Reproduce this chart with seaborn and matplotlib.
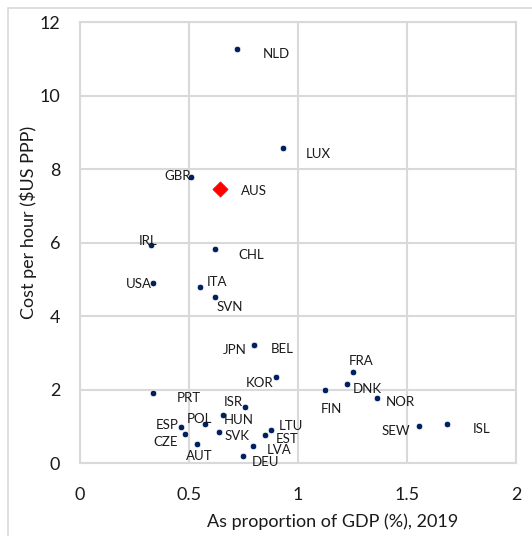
import numpy as np
import pandas as pd
import seaborn as sns
import matplotlib.pyplot as plt
from matplotlib.patches import Rectangle

# data
countries = ["NLD", "LUX", "GBR", "IRL", "CHL", "USA", "ITA", "SVN", "JPN", "BEL",
             "KOR", "PRT", "ISR", "HUN", "POL", "ESP", "CZE", "SVK", "LTU", "EST",
             "AUT", "LVA", "DEU", "FRA", "DNK", "FIN", "NOR", "SEW", "ISL"]
gdp_share = [0.72, 0.93, 0.51, 0.325, 0.62, 0.335, 0.553, 0.62, 0.80, 0.80,
             0.90, 0.335, 0.757, 0.655, 0.573, 0.463, 0.481, 0.637, 0.876, 0.848,
             0.536, 0.793, 0.747, 1.253, 1.225, 1.124, 1.363, 1.556, 1.684]
cost_per_hour = [11.28, 8.57, 7.80, 5.94, 5.83, 4.90, 4.79, 4.53, 3.22, 3.22,
                 2.34, 1.91, 1.53, 1.31, 1.07, 0.98, 0.80, 0.86, 0.92, 0.77,
                 0.54, 0.48, 0.21, 2.49, 2.17, 2.00, 1.79, 1.03, 1.08]
aus_name = ["AUS"]
aus_x = [0.645]
aus_y = [7.46]

# label offsets in pixels (dx, dy) relative to the point
label_offsets = {
    "NLD": (39, -5), "LUX": (36, -6), "GBR": (-13, 1), "IRL": (-3, 4),
    "CHL": (36, -6), "USA": (-14, -1), "ITA": (17, 5), "SVN": (15, -10),
    "JPN": (-20, -5), "BEL": (28, -4), "KOR": (-17, -6), "PRT": (36, -5),
    "ISR": (-12, 5), "HUN": (16, -5), "POL": (-5, 5), "ESP": (-14, 2),
    "CZE": (-19, -8), "SVK": (18, -4), "LTU": (20, 4), "EST": (22, -4),
    "AUT": (3, -12), "LVA": (26, -4), "DEU": (23, -6), "FRA": (8, 11),
    "DNK": (20, -5), "FIN": (6, -19), "NOR": (23, -4), "SEW": (-23, -5),
    "ISL": (34, -5), "AUS": (33, -2),
}

df = pd.DataFrame({"country": countries, "x": gdp_share, "y": cost_per_hour})
df_aus = pd.DataFrame({"country": aus_name, "x": aus_x, "y": aus_y})

sns.set_style("white")
plt.rcParams["font.family"] = ["Lato", "DejaVu Sans"]

fig = plt.figure(figsize=(5.32, 5.36), dpi=100)
ax = fig.add_axes([0.150, 0.1354, 0.820, 0.8228])

grid_col = "#d9d9d9"
text_col = "#1a1a1a"
sns.scatterplot(data=df, x="x", y="y", ax=ax, color="#002060", s=22,
                edgecolor="white", linewidth=0.5, zorder=3)
sns.scatterplot(data=df_aus, x="x", y="y", ax=ax, color="#ff0000", marker="D",
                s=60, edgecolor="#ff0000", linewidth=0.5, zorder=4)

all_pts = pd.concat([df, df_aus], ignore_index=True)
for row in all_pts.itertuples():
    dx, dy = label_offsets[row.country]
    ax.annotate(row.country, (row.x, row.y), xytext=(dx, dy), textcoords="offset pixels",
                ha="center", va="center", fontsize=9.5, color=text_col, zorder=5)

ax.set_xlim(0, 2)
ax.set_ylim(0, 12)
ax.set_xticks([0, 0.5, 1, 1.5, 2])
ax.set_xticklabels(["0", "0.5", "1", "1.5", "2"])
ax.set_yticks(range(0, 13, 2))
ax.grid(True, color=grid_col, linewidth=1.5)
ax.set_axisbelow(True)
for sp in ax.spines.values():
    sp.set_color(grid_col)
    sp.set_linewidth(1.5)
ax.tick_params(axis="both", length=0, labelsize=13, colors=text_col)
ax.tick_params(axis="x", pad=17)
ax.tick_params(axis="y", pad=14)
ax.set_xlabel("As proportion of GDP (%), 2019", fontsize=13, color=text_col)
ax.set_ylabel("Cost per hour ($US PPP)", fontsize=13, color=text_col)
ax.xaxis.set_label_coords(0.580, -0.113)
ax.yaxis.set_label_coords(-0.099, 0.546)

# chart-area border (only top and left edges fall inside the image)
fig.patches.append(Rectangle((8 / 532, -0.05), 1.0, 1.05 - 7.5 / 536,
                             transform=fig.transFigure, fill=False,
                             edgecolor=grid_col, linewidth=1.2))

fig.savefig("out.png", dpi=100)
